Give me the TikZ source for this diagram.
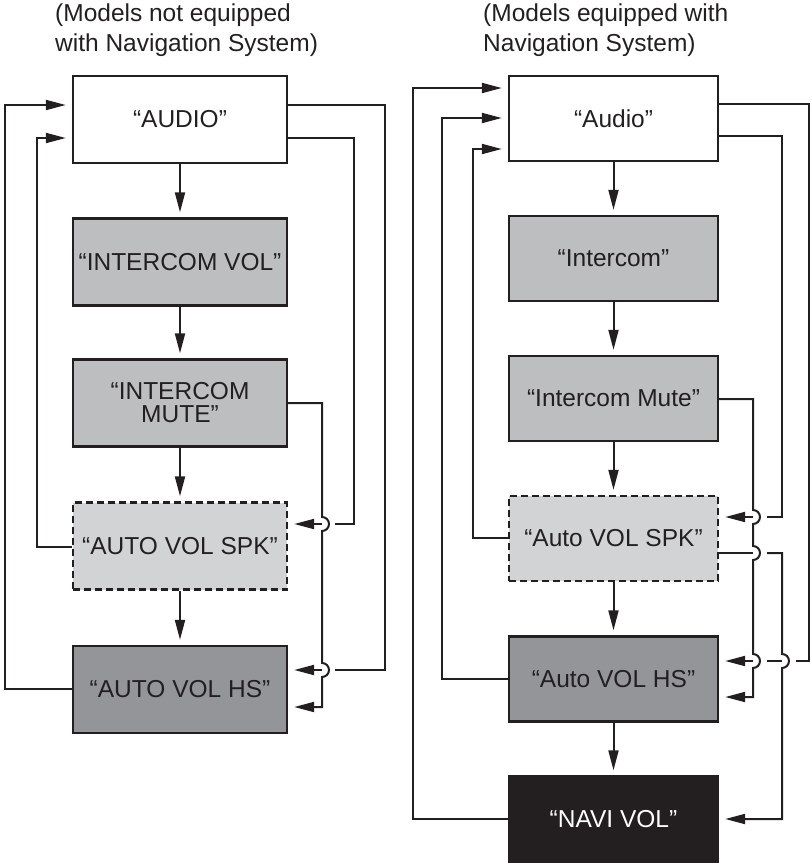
\documentclass[tikz,border=0pt]{standalone}
\usepackage{fontspec}
\setmainfont{Liberation Sans}
\usetikzlibrary{arrows.meta}
\definecolor{ink}{HTML}{231F20}
\definecolor{gmid}{HTML}{BCBEC0}
\definecolor{glight}{HTML}{D1D3D4}
\definecolor{gdark}{HTML}{939598}
\begin{document}
\begin{tikzpicture}[x=1pt,y=1pt,
  box/.style={draw=ink, line width=2.4pt, inner sep=0pt, align=center, text=ink,
    font=\fontsize{24.5}{23}\selectfont},
  lbox/.style={box, minimum width=214pt, minimum height=87pt},
  rbox/.style={box, minimum width=209pt, minimum height=85pt},
  conn/.style={draw=ink, line width=2pt},
  arr/.style={conn, -{Triangle[length=20pt,width=10pt]}, shorten >=6pt},
  title/.style={anchor=north west, align=left, inner sep=0pt, text=ink,
    font=\fontsize{24.5}{30}\selectfont}
]
\useasboundingbox (0,0) rectangle (811,-863);
% titles
\node[title] (tl) at (55,-4) {(Models not equipped\\with Navigation System)};
\node[title] (tr) at (483,-4) {(Models equipped with\\Navigation System)};
% left column
\node[lbox, fill=white] (lA) at (180,-119.5) {“AUDIO”};
\node[lbox, fill=gmid] (lIV) at (180,-262) {“INTERCOM VOL”};
\node[lbox, fill=gmid] (lM) at (180,-403) {“INTERCOM\\MUTE”};
\node[lbox, fill=glight, dash pattern=on 7pt off 4pt] (lS) at (180,-546) {“AUTO VOL SPK”};
\node[lbox, fill=gdark] (lH) at (180,-689.5) {“AUTO VOL HS”};
\draw[arr, shorten >=5pt] (lA) -- (lIV);
\draw[arr, shorten >=5pt] (lIV) -- (lM);
\draw[arr, shorten >=5pt] (lM) -- (lS);
\draw[arr, shorten >=5pt] (lS) -- (lH);
% left loops
\draw[arr] (lH.west |- 0,-689) -- (5,-689) -- (5,-105) -- (lA.west |- 0,-105);
\draw[arr] (lS.west |- 0,-547) -- (37,-547) -- (37,-138) -- (lA.west |- 0,-138);
\draw[conn] (lA.east |- 0,-105) -- (385,-105) -- (385,-670) -- (335,-670);
\draw[arr] (322,-670) -- (lH.east |- 0,-670);
\draw[conn] (lA.east |- 0,-138) -- (354,-138) -- (354,-524) -- (335,-524);
\draw[arr] (322,-524) -- (lS.east |- 0,-524);
\draw[arr] (lM.east |- 0,-403) -- (322,-403) -- (322,-517)
  arc[start angle=90, end angle=-90, radius=7] -- (322,-663)
  arc[start angle=90, end angle=-90, radius=7] -- (322,-707) -- (lH.east |- 0,-707);
% right column
\node[rbox, fill=white] (rA) at (613.5,-118.5) {“Audio”};
\node[rbox, fill=gmid] (rI) at (613.5,-258.5) {“Intercom”};
\node[rbox, fill=gmid] (rM) at (613.5,-398.5) {“Intercom Mute”};
\node[rbox, fill=glight, dash pattern=on 7pt off 4pt] (rS) at (613.5,-538.5) {“Auto VOL SPK”};
\node[rbox, fill=gdark] (rH) at (613.5,-679) {“Auto VOL HS”};
\node[rbox, fill=ink, text=white] (rN) at (613.5,-819) {“NAVI VOL”};
\draw[arr, shorten >=5pt] (rA) -- (rI);
\draw[arr, shorten >=5pt] (rI) -- (rM);
\draw[arr, shorten >=5pt] (rM) -- (rS);
\draw[arr, shorten >=5pt] (rS) -- (rH);
\draw[arr, shorten >=5pt] (rH) -- (rN);
% right loops
\draw[arr] (rN.west |- 0,-819) -- (413,-819) -- (413,-88) -- (rA.west |- 0,-88);
\draw[arr] (rH.west |- 0,-679) -- (442,-679) -- (442,-118) -- (rA.west |- 0,-118);
\draw[arr] (rS.west |- 0,-538) -- (473,-538) -- (473,-149) -- (rA.west |- 0,-149);
\draw[conn] (rA.east |- 0,-104) -- (809,-104) -- (809,-661) -- (796,-661);
\draw[conn] (782,-661) -- (767,-661);
\draw[arr] (753,-661) -- (rH.east |- 0,-661);
\draw[conn] (rA.east |- 0,-136) -- (782,-136) -- (782,-517) -- (767,-517);
\draw[arr] (753,-517) -- (rS.east |- 0,-517);
\draw[arr] (rM.east |- 0,-399) -- (753,-399) -- (753,-510)
  arc[start angle=90, end angle=-90, radius=7] -- (753,-546)
  arc[start angle=90, end angle=-90, radius=7] -- (753,-654)
  arc[start angle=90, end angle=-90, radius=7] -- (753,-697) -- (rH.east |- 0,-697);
\draw[conn] (rS.east |- 0,-553) -- (753,-553);
\draw[arr] (767,-553) -- (782,-553) -- (782,-654)
  arc[start angle=90, end angle=-90, radius=7] -- (782,-819) -- (rN.east |- 0,-819);
\end{tikzpicture}
\end{document}
